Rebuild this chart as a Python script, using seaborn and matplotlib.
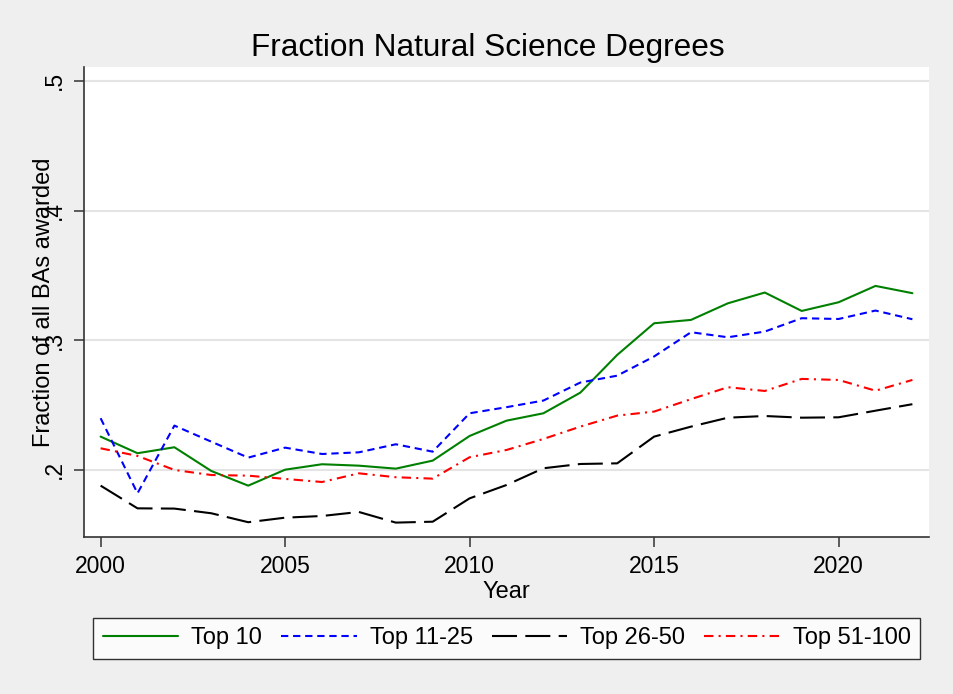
import matplotlib
matplotlib.use("Agg")
import matplotlib.pyplot as plt
import seaborn as sns
import pandas as pd

years = list(range(2000, 2023))
top10 = [0.2257, 0.2129, 0.2175, 0.1992, 0.1879, 0.2002, 0.2044, 0.2033, 0.2010, 0.2072,
         0.2262, 0.2380, 0.2437, 0.2596, 0.2887, 0.3131, 0.3157, 0.3285, 0.3368, 0.3226,
         0.3293, 0.3419, 0.3363]
top11_25 = [0.2399, 0.1820, 0.2342, 0.2218, 0.2095, 0.2172, 0.2123, 0.2136, 0.2198, 0.2141,
            0.2437, 0.2484, 0.2535, 0.2674, 0.2727, 0.2875, 0.3062, 0.3023, 0.3067, 0.3170,
            0.3164, 0.3229, 0.3162]
top26_50 = [0.1879, 0.1704, 0.1702, 0.1666, 0.1597, 0.1632, 0.1645, 0.1676, 0.1594, 0.1601,
            0.1781, 0.1884, 0.2013, 0.2046, 0.2051, 0.2257, 0.2334, 0.2403, 0.2416, 0.2403,
            0.2406, 0.2457, 0.2507]
top51_100 = [0.2167, 0.2108, 0.2000, 0.1961, 0.1956, 0.1931, 0.1907, 0.1974, 0.1944, 0.1933,
             0.2098, 0.2154, 0.2239, 0.2334, 0.2419, 0.2450, 0.2546, 0.2638, 0.2609, 0.2702,
             0.2694, 0.2611, 0.2694]
series_names = ["Top 10", "Top 11-25", "Top 26-50", "Top 51-100"]
xticks = [2000, 2005, 2010, 2015, 2020]
yticks = [0.2, 0.3, 0.4, 0.5]
ytick_labels = [".2", ".3", ".4", ".5"]

colors = ["#008000", "#0000ff", "#000000", "#ff0000"]
styles = ["-", (0, (3.5, 2.3)), (0, (12, 4)), (0, (4.5, 2.5, 1, 2.5))]

sns.set_style("white")
plt.rcParams["font.family"] = ["Liberation Sans", "DejaVu Sans"]
plt.rcParams["text.color"] = "black"
plt.rcParams["axes.labelcolor"] = "black"
plt.rcParams["xtick.color"] = "black"
plt.rcParams["ytick.color"] = "black"

fig = plt.figure(figsize=(9.54, 6.94), dpi=100)
fig.patch.set_facecolor("#efefef")
ax = fig.add_axes([84/954, 1 - 537/694, (929-84)/954, (537-67)/694])
ax.set_facecolor("white")

for name, vals, c, ls in zip(series_names, [top10, top11_25, top26_50, top51_100], colors, styles):
    df = pd.DataFrame({"Year": years, "val": vals})
    sns.lineplot(data=df, x="Year", y="val", ax=ax, color=c, linestyle=ls, linewidth=1.5, label=name)

ax.set_xlim(1999.55, 2022.45)
ax.set_ylim(0.1483, 0.5107)
ax.set_yticks(yticks)
ax.set_yticklabels(ytick_labels, rotation=90, va="center")
ax.set_xticks(xticks)
ax.grid(axis="y", color="#e4e4e4", linewidth=1.5)
ax.grid(axis="x", visible=False)
ax.set_axisbelow(True)
for s in ["top", "right"]:
    ax.spines[s].set_visible(False)
for s in ["left", "bottom"]:
    ax.spines[s].set_color("#333333")
    ax.spines[s].set_linewidth(1.2)
ax.tick_params(axis="both", which="major", length=7, width=1.1, color="#333333",
               labelcolor="black", labelsize=16.5, direction="out", left=True, bottom=True)
ax.tick_params(axis="x", pad=6)
ax.tick_params(axis="y", pad=6)
ax.set_xlabel("Year", fontsize=17, labelpad=2, color="black")
ax.set_ylabel("Fraction of all BAs awarded", fontsize=17, color="black")
ax.yaxis.label.set_va("center")
ax.yaxis.set_label_coords((44 - 84) / 845, 0.5)
fig.text(488/954, 1 - 48/694, "Fraction Natural Science Degrees", fontsize=22.7,
         ha="center", va="center", color="black")

handles, labels = ax.get_legend_handles_labels()
ax.get_legend().remove()
leg = fig.legend(handles, labels, ncol=4, loc="center",
                 bbox_to_anchor=(506.7/954, 1 - 638.3/694),
                 frameon=True, fancybox=False, fontsize=17, handlelength=3.2,
                 borderpad=0.4, handletextpad=0.55, columnspacing=0.8)
leg.get_frame().set_edgecolor("black")
leg.get_frame().set_linewidth(1.0)
leg.get_frame().set_facecolor("white")
for t in leg.get_texts():
    t.set_color("black")

fig.savefig("out.png", dpi=100, facecolor=fig.get_facecolor())
